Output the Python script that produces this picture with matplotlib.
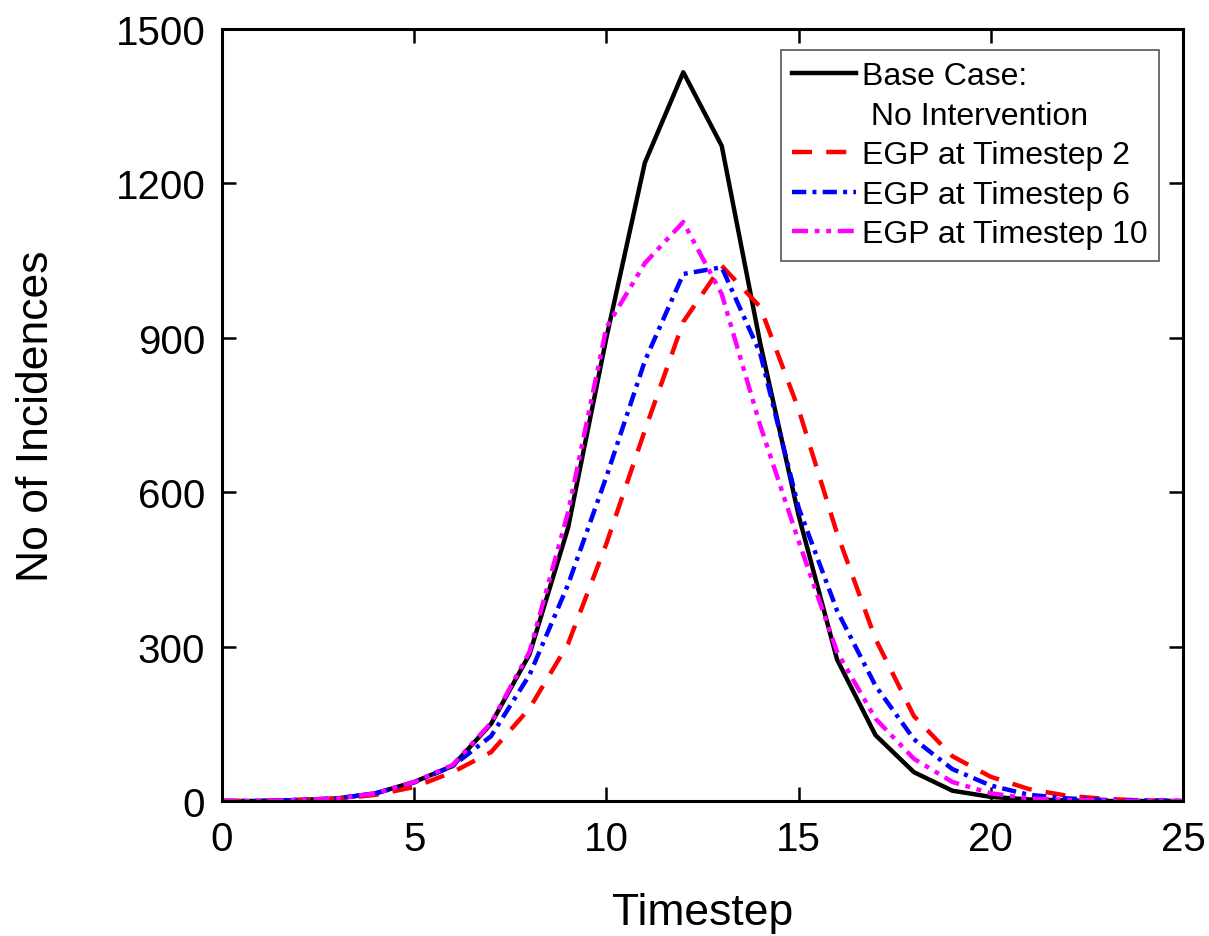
import matplotlib.pyplot as plt

plt.rcParams['font.family'] = ['Liberation Sans', 'DejaVu Sans']

timestep = list(range(0, 26))

base_case = [0, 0, 2, 5, 15, 37, 68, 150, 285, 530, 900, 1240, 1416, 1273, 890,
             555, 275, 128, 56, 20, 8, 3, 1, 0, 0, 0]
egp_2 = [0, 0, 2, 4, 12, 27, 56, 95, 180, 305, 500, 720, 931, 1040, 960,
         761, 520, 315, 165, 87, 47, 23, 10, 4, 1, 0]
egp_6 = [0, 0, 2, 5, 15, 36, 68, 126, 245, 420, 630, 855, 1024, 1037, 870,
         570, 370, 224, 120, 62, 30, 12, 5, 2, 1, 0]
egp_10 = [0, 0, 2, 5, 15, 37, 70, 152, 290, 560, 920, 1045, 1125, 985, 730,
          505, 290, 160, 82, 37, 15, 5, 2, 1, 0, 0]

fig = plt.figure(figsize=(12.09, 9.37), dpi=100)
ax = fig.add_axes([222/1209, 1 - 802/937, (1183-222)/1209, (802-30)/937])

lw = 3.2
ax.plot(timestep, base_case, color='black', lw=lw, label='Base Case:')
ax.plot([], [], color='none', label=' No Intervention')
ax.plot(timestep, egp_2, color='red', lw=lw, linestyle=(0, (4.5, 3.2)), label='EGP at Timestep 2')
ax.plot(timestep, egp_6, color='blue', lw=lw, linestyle=(0, (3.2, 1.4, 0.9, 1.4)), label='EGP at Timestep 6')
ax.plot(timestep, egp_10, color='magenta', lw=lw, linestyle=(0, (3.6, 1.5, 1.1, 1.5, 1.1, 1.5)),
        label='EGP at Timestep 10')

ax.set_xlim(0, 25)
ax.set_ylim(0, 1500)
ax.set_xticks([0, 5, 10, 15, 20, 25])
ax.set_yticks([0, 300, 600, 900, 1200, 1500])
ax.tick_params(direction='in', length=10, width=1.8, labelsize=29, top=True, right=True)
ax.tick_params(axis='x', pad=14)
ax.tick_params(axis='y', pad=12)
for s in ax.spines.values():
    s.set_linewidth(2.2)

ax.set_xlabel('Timestep', fontsize=32, labelpad=24)
ax.set_ylabel('No of Incidences', fontsize=32, labelpad=42)

leg = ax.legend(loc='upper right', bbox_to_anchor=(0.975, 0.973), fontsize=23, handlelength=2.0,
                handletextpad=0.2, borderpad=0.35, labelspacing=0.3, borderaxespad=0,
                fancybox=False, framealpha=1, edgecolor='#555555')
leg.get_frame().set_linewidth(1.2)

fig.savefig('out.png', dpi=100)
